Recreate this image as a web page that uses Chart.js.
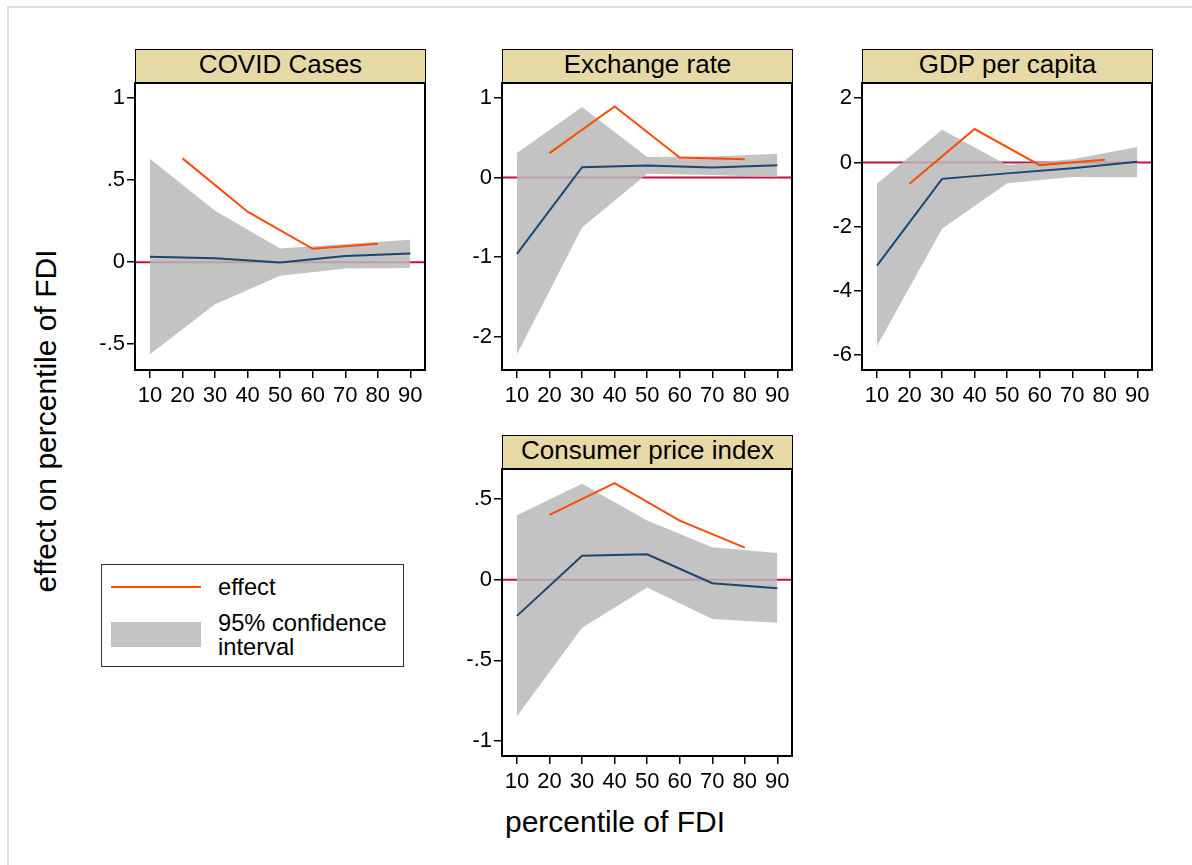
<!DOCTYPE html>
<html>
<head>
<meta charset="utf-8">
<script src="https://cdn.jsdelivr.net/npm/chart.js@4.4.1/dist/chart.umd.min.js"></script>
<style>
  html, body { margin: 0; padding: 0; background: #fff; }
  body { width: 1192px; height: 865px; position: relative; overflow: hidden;
         font-family: "Liberation Sans", Arial, sans-serif; color: #000; }
  #frame { position: absolute; left: 7px; top: 6px; right: 0; bottom: 0;
           border-top: 2px solid #dcdcdc; border-left: 2px solid #dcdcdc; }
  .panel { position: absolute; }
  .strip { position: absolute; box-sizing: border-box; height: 35px; width: 291px;
           background: #e6d9a6; border: 1.5px solid #000; text-align: center;
           font-size: 26px; line-height: 28px; white-space: nowrap; }
  .axtitle { position: absolute; font-size: 30px; line-height: 30px; white-space: nowrap; }
  #ytitle { left: 46px; top: 421px; transform: translate(-50%, -50%) rotate(-90deg); }
  #xtitle { left: 615px; top: 807px; transform: translateX(-50%); }
  #legend { position: absolute; left: 101px; top: 564px; width: 303px; height: 103px;
            box-sizing: border-box; border: 1.5px solid #333; font-size: 23.7px; }
  #legend .swline { position: absolute; left: 9px; top: 21px; width: 90px; height: 2px; background: #ff4a00; }
  #legend .swarea { position: absolute; left: 9px; top: 57px; width: 90px; height: 25px; background: #c4c4c4; }
  #legend .lab { position: absolute; left: 116px; line-height: 23.5px; }
</style>
</head>
<body>
<div id="frame"></div>

<div class="axtitle" id="ytitle">effect on percentile of FDI</div>
<div class="axtitle" id="xtitle">percentile of FDI</div>

<div id="legend">
  <div class="swline"></div>
  <div class="lab" style="top:11px">effect</div>
  <div class="swarea"></div>
  <div class="lab" style="top:47px">95% confidence<br>interval</div>
</div>

<script>
// percentiles of FDI
const pctAll = [10, 30, 50, 70, 90]
const pctEffect = [20, 40, 60, 80]
const xTicks = [10, 20, 30, 40, 50, 60, 70, 80, 90]

// COVID Cases
const covidMid = [0.033, 0.024, -0.002, 0.037, 0.053]
const covidHi = [0.63, 0.313, 0.083, 0.11, 0.136]
const covidLo = [-0.561, -0.256, -0.083, -0.039, -0.035]
const covidEffect = [0.632, 0.307, 0.081, 0.112]
const covidTicks = [-0.5, 0, 0.5, 1]

// Exchange rate
const exchMid = [-0.96, 0.13, 0.151, 0.126, 0.155]
const exchHi = [0.306, 0.885, 0.256, 0.262, 0.298]
const exchLo = [-2.222, -0.629, 0.046, 0.03, 0.004]
const exchEffect = [0.306, 0.893, 0.252, 0.23]
const exchTicks = [-2, -1, 0, 1]

// GDP per capita
const gdpMid = [-3.21, -0.51, -0.34, -0.18, 0.02]
const gdpHi = [-0.665, 1.018, -0.083, 0.1, 0.478]
const gdpLo = [-5.71, -2.06, -0.644, -0.45, -0.457]
const gdpEffect = [-0.665, 1.04, -0.083, 0.083]
const gdpTicks = [-6, -4, -2, 0, 2]

// Consumer price index
const cpiMid = [-0.224, 0.149, 0.158, -0.021, -0.052]
const cpiHi = [0.40, 0.595, 0.367, 0.201, 0.166]
const cpiLo = [-0.846, -0.297, -0.048, -0.243, -0.266]
const cpiEffect = [0.402, 0.60, 0.367, 0.199]
const cpiTicks = [-1, -0.5, 0, 0.5]

const panels = [
    { title: "COVID Cases", left: 135, top: 83, mid: covidMid, hi: covidHi, lo: covidLo, effect: covidEffect, ticks: covidTicks, ymin: -0.657, ymax: 1.091 },
    { title: "Exchange rate", left: 502, top: 83, mid: exchMid, hi: exchHi, lo: exchLo, effect: exchEffect, ticks: exchTicks, ymin: -2.419, ymax: 1.187 },
    { title: "GDP per capita", left: 862, top: 83, mid: gdpMid, hi: gdpHi, lo: gdpLo, effect: gdpEffect, ticks: gdpTicks, ymin: -6.46, ymax: 2.473 },
    { title: "Consumer price index", left: 502, top: 469, mid: cpiMid, hi: cpiHi, lo: cpiLo, effect: cpiEffect, ticks: cpiTicks, ymin: -1.093, ymax: 0.687 }
]

const plotW = 290, plotH = 287
const axisW = 70, axisH = 50, padTop = 20, padRight = 10

Chart.defaults.font.family = '"Liberation Sans", Arial, sans-serif'
Chart.defaults.color = "#000"

const pairs = (xs, ys) => xs.map((x, i) => ({ x: x, y: ys[i] }))

// zero reference line, under the data
const zeroLine = {
    id: "zeroLine",
    beforeDatasetsDraw(chart) {
        let { ctx, chartArea, scales } = chart
        let y = scales.y.getPixelForValue(0)
        ctx.save()
        ctx.strokeStyle = "#c8103c"
        ctx.lineWidth = 2
        ctx.beginPath()
        ctx.moveTo(chartArea.left, y)
        ctx.lineTo(chartArea.right, y)
        ctx.stroke()
        ctx.restore()
    }
}

// black box round the plot area
const plotBox = {
    id: "plotBox",
    afterDraw(chart) {
        let { ctx, chartArea } = chart
        ctx.save()
        ctx.strokeStyle = "#000"
        ctx.lineWidth = 2
        ctx.strokeRect(chartArea.left, chartArea.top, chartArea.right - chartArea.left, chartArea.bottom - chartArea.top)
        ctx.restore()
    }
}

panels.forEach(p => {
    let strip = document.createElement("div")
    strip.className = "strip"
    strip.style.left = p.left + "px"
    strip.style.top = (p.top - 34) + "px"
    strip.innerText = p.title
    document.body.appendChild(strip)

    let box = document.createElement("div")
    box.className = "panel"
    box.style.left = (p.left - axisW) + "px"
    box.style.top = (p.top - padTop) + "px"
    box.style.width = (axisW + plotW + padRight) + "px"
    box.style.height = (padTop + plotH + axisH) + "px"
    let canvas = document.createElement("canvas")
    box.appendChild(canvas)
    document.body.appendChild(box)

    const data = {
        datasets: [
            { label: "effect", data: pairs(pctEffect, p.effect), borderColor: "#ff4a00", borderWidth: 2, pointRadius: 0, fill: false },
            { label: "estimate", data: pairs(pctAll, p.mid), borderColor: "#1a476f", borderWidth: 2, pointRadius: 0, fill: false },
            { label: "upper", data: pairs(pctAll, p.hi), borderWidth: 0, borderColor: "rgba(0,0,0,0)", backgroundColor: "rgba(185,185,185,0.86)", pointRadius: 0, fill: "+1" },
            { label: "lower", data: pairs(pctAll, p.lo), borderWidth: 0, borderColor: "rgba(0,0,0,0)", pointRadius: 0, fill: false }
        ]
    }

    const config = {
        type: "line",
        data: data,
        options: {
            responsive: true,
            maintainAspectRatio: false,
            animation: false,
            events: [],
            layout: { padding: { top: padTop, right: padRight, left: 0, bottom: 0 } },
            elements: { line: { tension: 0 } },
            plugins: {
                legend: { display: false },
                tooltip: { enabled: false }
            },
            scales: {
                x: {
                    type: "linear",
                    min: 5.4,
                    max: 94.5,
                    afterBuildTicks: s => { s.ticks = xTicks.map(v => ({ value: v })) },
                    afterFit: s => { s.height = axisH },
                    ticks: { font: { size: 22 }, padding: 5, maxRotation: 0, autoSkip: false },
                    grid: { drawOnChartArea: false, drawTicks: true, tickLength: 8, color: "#000", lineWidth: 1.5 },
                    border: { display: false }
                },
                y: {
                    min: p.ymin,
                    max: p.ymax,
                    afterBuildTicks: s => { s.ticks = p.ticks.map(v => ({ value: v })) },
                    afterFit: s => { s.width = axisW },
                    ticks: {
                        font: { size: 22 },
                        padding: 2,
                        autoSkip: false,
                        callback: v => String(v).replace(/^(-?)0\./, "$1.")
                    },
                    grid: { drawOnChartArea: false, drawTicks: true, tickLength: 8, color: "#000", lineWidth: 1.5 },
                    border: { display: false }
                }
            }
        },
        plugins: [zeroLine, plotBox]
    }

    new Chart(canvas, config)
})
</script>
</body>
</html>
